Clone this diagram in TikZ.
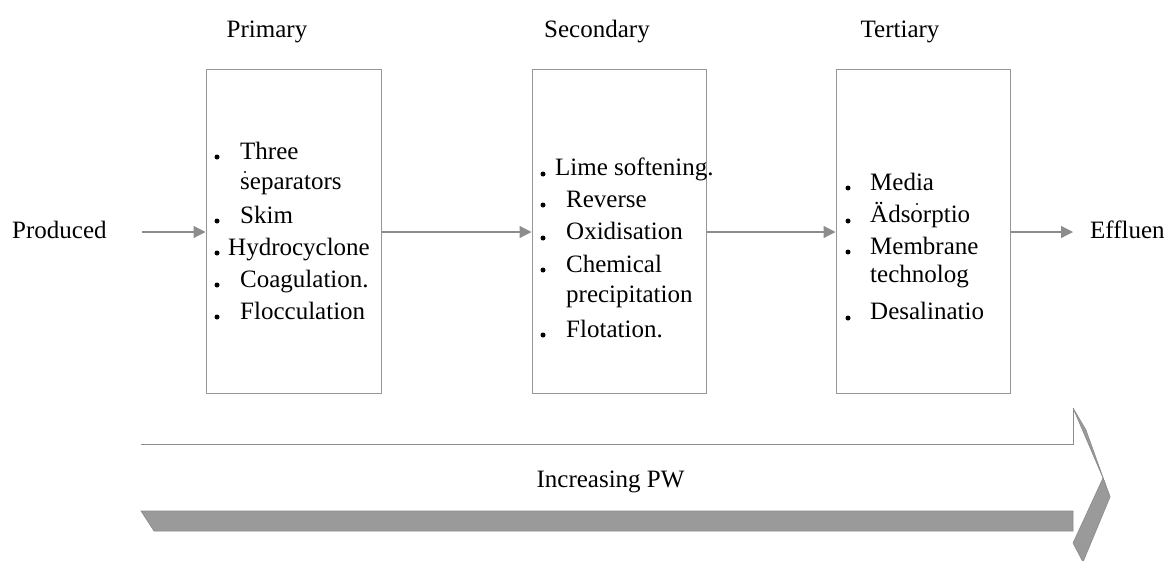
\documentclass[tikz,border=0pt]{standalone}
\usepackage{fontspec}
\setmainfont{Liberation Serif}
\usetikzlibrary{arrows.meta}
\definecolor{boxgray}{HTML}{969696}
\definecolor{linegray}{HTML}{8C8C8C}
\definecolor{bandgray}{HTML}{9A9A9A}
\definecolor{bandedge}{HTML}{8A8A8A}
\begin{document}
\begin{tikzpicture}[x=1pt,y=-1pt,
  stagebox/.style={draw=boxgray, line width=1pt, minimum width=175pt,
    minimum height=324pt, inner sep=0pt},
  flow/.style={draw=linegray, line width=1.2pt,
    -{Triangle[length=12pt,width=12pt]}},
  lbl/.style={font=\fontsize{25}{29}\selectfont, inner sep=0pt, anchor=base west},
  head/.style={font=\fontsize{25}{29}\selectfont, inner sep=0pt, anchor=base},
  bul/.style={fill=black},
]
\useasboundingbox (0,0) rectangle (1172,560);

% stage headings
\node[head] (hp) at (267,37) {Primary};
\node[head] (hs) at (597,37) {Secondary};
\node[head] (ht) at (900,37) {Tertiary};

% stage boxes
\node[stagebox] (prim) at (293.5,231) {};
\node[stagebox, minimum width=174pt] (sec) at (619,231) {};
\node[stagebox, minimum width=174pt] (ter) at (923,231) {};

% inflow and outflow labels
\node[lbl] (prod) at (12,238) {Produced};
\node[lbl] (eff) at (1090,238) {Effluen};
\coordinate (prodout) at (142,232);
\coordinate (effin) at (1073,232);

% connectors
\draw[flow] (prodout) -- (prim.west |- prodout);
\draw[flow] (prim.east |- prodout) -- (sec.west |- prodout);
\draw[flow] (sec.east |- prodout) -- (ter.west |- prodout);
\draw[flow] (ter.east |- prodout) -- (effin);

% primary treatment list
\foreach \y in {157,221,253,285,317} \fill[bul] (217,\y) circle (2.5pt);
\fill[bul] (245,172) circle (1.2pt);
\node[lbl] (p1) at (240,159) {Three};
\node[lbl] (p2) at (240,189) {separators};
\node[lbl] (p3) at (240,223) {Skim};
\node[lbl] (p4) at (228,255) {Hydrocyclone};
\node[lbl] (p5) at (240,287) {Coagulation.};
\node[lbl] (p6) at (240,319) {Flocculation};

% secondary treatment list
\foreach \y in {174,205,238,270,335} \fill[bul] (543,\y) circle (2.5pt);
\node[lbl] (s1) at (555,175) {Lime softening.};
\node[lbl] (s2) at (566,207) {Reverse};
\node[lbl] (s3) at (566,239) {Oxidisation};
\node[lbl] (s4) at (566,272) {Chemical};
\node[lbl] (s5) at (566,302) {precipitation};
\node[lbl] (s6) at (566,337) {Flotation.};

% tertiary treatment list
\foreach \y in {188,221,252,318} \fill[bul] (848,\y) circle (2.5pt);
\fill[bul] (917,204) circle (1.2pt);
\node[lbl] (t1) at (870,190) {Media};
\node[lbl] (t2) at (870,222) {Ädsorptio};
\node[lbl] (t3) at (870,254) {Membrane};
\node[lbl] (t4) at (870,282) {technolog};
\node[lbl] (t5) at (870,319) {Desalinatio};

% long block arrow along the bottom
\filldraw[fill=bandgray, draw=bandedge, line width=0.6pt]
  (141,511) -- (1073,511) -- (1073,531) -- (154,531) -- cycle;
\draw[linegray, line width=1pt] (141,444) -- (1073,444) -- (1073,408);
\filldraw[fill=bandgray, draw=bandedge, line width=0.6pt]
  (1073,408) -- (1086,430) -- (1110,497) -- (1103,478) -- cycle;
\filldraw[fill=bandgray, draw=bandedge, line width=0.6pt]
  (1103,478) -- (1110,497) -- (1083,562) -- (1073,543) -- cycle;
\node[head] (inc) at (610.5,487) {Increasing PW};
\end{tikzpicture}
\end{document}
